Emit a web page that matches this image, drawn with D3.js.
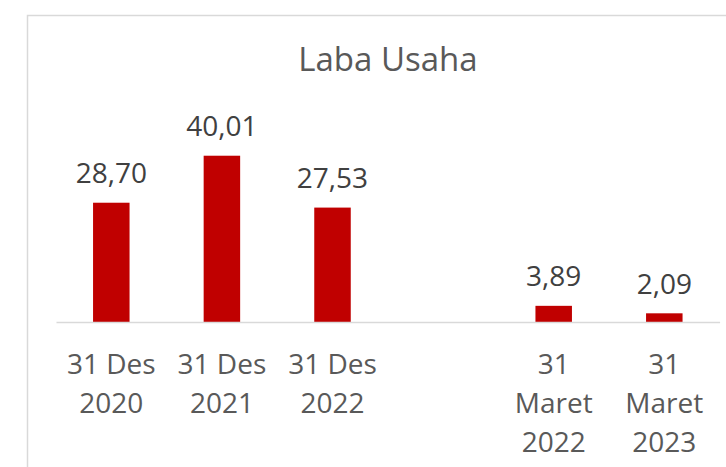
<!DOCTYPE html>
<html>
<head>
<meta charset="utf-8">
<script src="https://cdn.jsdelivr.net/npm/d3@7"></script>
<style>
  body { margin: 0; background: #fff; }
  svg { display: block; font-family: "Open Sans", sans-serif; }
</style>
</head>
<body>
<div id="chart"></div>
<script>
const categories = ["31 Des 2020", "31 Des 2021", "31 Des 2022", "gap", "31 Maret 2022", "31 Maret 2023"]
const values = [28.70, 40.01, 27.53, null, 3.89, 2.09]
const tickLines = {
    "31 Des 2020": ["31 Des", "2020"],
    "31 Des 2021": ["31 Des", "2021"],
    "31 Des 2022": ["31 Des", "2022"],
    "gap": [],
    "31 Maret 2022": ["31", "Maret", "2022"],
    "31 Maret 2023": ["31", "Maret", "2023"]
}
const title = "Laba Usaha"

const width = 726
const height = 467
const baseY = 322 // y of the category axis

const svg = d3.select("#chart")
    .append("svg")
    .attr("width", width)
    .attr("height", height)

// chart frame (cut off at the right and bottom)
svg.append("rect")
    .attr("x", 27.5)
    .attr("y", 15.5)
    .attr("width", 800)
    .attr("height", 600)
    .attr("fill", "none")
    .attr("stroke", "#d9d9d9")
    .attr("stroke-width", 1.5)

svg.append("text")
    .attr("x", 388)
    .attr("y", 71)
    .attr("text-anchor", "middle")
    .attr("font-size", 33)
    .attr("fill", "#595959")
    .text(title)

const x = d3.scaleBand()
    .domain(categories)
    .range([56, 719.6])
    .paddingInner(0.67)
    .paddingOuter(0.335)

const y = d3.scaleLinear()
    .domain([0, 50])
    .range([baseY, baseY - 207.8])

const data = categories.map((c, i) => ({ cat: c, val: values[i] })).filter(d => d.val !== null)

svg.append("g")
    .selectAll("rect")
    .data(data)
    .join("rect")
    .attr("x", d => x(d.cat))
    .attr("width", x.bandwidth())
    .attr("y", d => y(d.val))
    .attr("height", d => y(0) - y(d.val))
    .attr("fill", "#c00000")

const fmt = d3.formatLocale({ decimal: ",", thousands: ".", grouping: [3], currency: ["", ""] }).format(".2f")

svg.append("g")
    .selectAll("text")
    .data(data)
    .join("text")
    .attr("x", d => x(d.cat) + x.bandwidth() / 2)
    .attr("y", d => y(d.val) - 19.5)
    .attr("text-anchor", "middle")
    .attr("font-size", 28)
    .attr("fill", "#404040")
    .text(d => fmt(d.val))

const axis = svg.append("g")
    .attr("transform", "translate(0," + baseY + ")")
    .call(d3.axisBottom(x).tickSize(0).tickSizeOuter(0))

axis.select(".domain")
    .attr("stroke", "#d9d9d9")
    .attr("stroke-width", 1.5)

axis.selectAll(".tick text")
    .text(null)
    .attr("dy", 0)
    .attr("font-family", "Open Sans, sans-serif")
    .attr("font-size", 28)
    .attr("fill", "#595959")
    .each(function (c) {
        d3.select(this).selectAll("tspan")
            .data(tickLines[c])
            .join("tspan")
            .attr("x", 0)
            .attr("y", (d, i) => 52 + i * 39)
            .text(d => d)
    })
</script>
</body>
</html>
